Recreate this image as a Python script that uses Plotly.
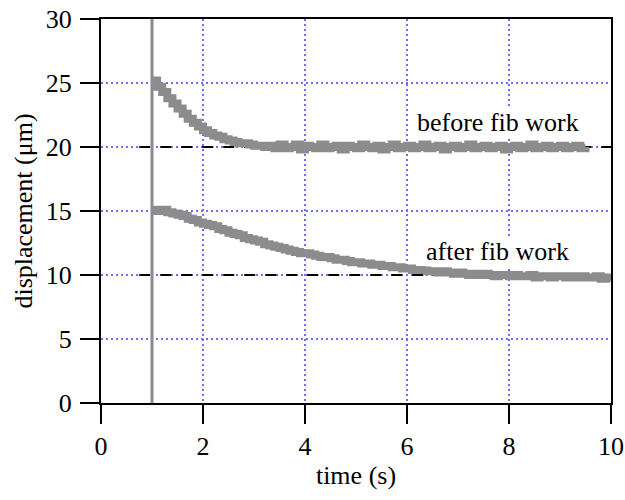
import plotly.graph_objects as go

# sample times (s), shared by both traces
time_s = [1.0, 1.1, 1.2, 1.3, 1.4, 1.5, 1.6, 1.7, 1.8, 1.9,
          2.0, 2.1, 2.2, 2.3, 2.4, 2.5, 2.6, 2.7, 2.8, 2.9,
          3.0, 3.1, 3.2, 3.3, 3.4, 3.5, 3.6, 3.7, 3.8, 3.9,
          4.0, 4.1, 4.2, 4.3, 4.4, 4.5, 4.6, 4.7, 4.8, 4.9,
          5.0, 5.1, 5.2, 5.3, 5.4, 5.5, 5.6, 5.7, 5.8, 5.9,
          6.0, 6.1, 6.2, 6.3, 6.4, 6.5, 6.6, 6.7, 6.8, 6.9,
          7.0, 7.1, 7.2, 7.3, 7.4, 7.5, 7.6, 7.7, 7.8, 7.9,
          8.0, 8.1, 8.2, 8.3, 8.4, 8.5, 8.6, 8.7, 8.8, 8.9,
          9.0, 9.1, 9.2, 9.3, 9.4, 9.5, 9.6, 9.7, 9.8, 9.9,
          10.0]

before_um = [25.2, 24.7, 24.3, 23.8, 23.4, 23.0, 22.6, 22.2, 21.9, 21.6,
             21.3, 21.1, 20.9, 20.8, 20.6, 20.5, 20.4, 20.3, 20.3, 20.2,
             20.1, 20.1, 20.0, 20.1, 19.9, 20.2, 19.9, 20.0, 20.2, 19.8,
             20.1, 20.0, 19.9, 20.2, 19.9, 20.0, 20.1, 19.8, 20.1, 20.0,
             19.9, 20.2, 20.0, 19.9, 20.1, 19.8, 20.0, 20.2, 19.9, 20.0,
             20.1, 19.9, 20.0, 20.2, 19.9, 20.0, 20.1, 19.8, 20.0, 20.1,
             19.9, 20.0, 20.2, 19.9, 20.0, 20.1, 19.9, 20.0, 20.1, 19.8,
             20.0, 20.1, 19.9, 20.0, 20.2, 19.9, 20.0, 20.1, 19.9, 20.0,
             20.1, 19.9, 20.0, 20.1, 19.9, 20.0]

after_um = [15.1, 15.0, 15.1, 14.9, 14.8, 14.7, 14.6, 14.4, 14.3, 14.1,
            14.0, 13.9, 13.8, 13.6, 13.5, 13.3, 13.2, 13.1, 12.9, 12.8,
            12.7, 12.6, 12.4, 12.3, 12.2, 12.1, 12.0, 11.9, 11.8, 11.7,
            11.7, 11.6, 11.5, 11.4, 11.4, 11.3, 11.2, 11.2, 11.1, 11.0,
            11.0, 10.9, 10.9, 10.8, 10.8, 10.7, 10.7, 10.6, 10.6, 10.5,
            10.5, 10.4, 10.4, 10.4, 10.3, 10.3, 10.2, 10.3, 10.2, 10.1,
            10.2, 10.1, 10.0, 10.1, 10.0, 10.1, 10.0, 9.9, 10.0, 10.0,
            9.9, 10.0, 9.9, 9.9, 10.0, 9.8, 9.9, 9.9, 9.8, 9.9,
            9.9, 9.8, 9.9, 9.8, 9.9, 9.8, 9.8, 9.9, 9.7, 9.8,
            9.8]

baseline_levels = [20, 10]
baseline_x = [0.75, 10]
step_time = 1.0
labels = ["before fib work", "after fib work"]
label_pos = [(7.78, 21.9), (7.78, 11.8)]

FONT = "Liberation Serif"
GRAY = "#8c8c8c"
FS = 26

fig = go.Figure()

for lvl in baseline_levels:
    fig.add_trace(go.Scatter(x=baseline_x, y=[lvl, lvl], mode="lines",
                             line=dict(color="black", width=2, dash="11px,10px"),
                             hoverinfo="skip"))

fig.add_trace(go.Scatter(x=[step_time, step_time], y=[0, 30], mode="lines",
                         line=dict(color=GRAY, width=3), hoverinfo="skip"))

fig.add_trace(go.Scatter(x=time_s[:len(before_um)], y=before_um, mode="lines",
                         line=dict(color=GRAY, width=8, shape="hv")))
fig.add_trace(go.Scatter(x=time_s[:len(after_um)], y=after_um, mode="lines",
                         line=dict(color=GRAY, width=8, shape="hv")))

for txt, (ax_, ay_) in zip(labels, label_pos):
    fig.add_annotation(x=ax_, y=ay_, text=txt, showarrow=False,
                       bgcolor="white", borderpad=0,
                       font=dict(size=FS, color="black", family=FONT))

axis_common = dict(showline=True, linecolor="black", linewidth=2, mirror=True,
                   ticks="outside", ticklen=19, tickwidth=2, tickcolor="black",
                   showgrid=True, gridcolor="#6f6fff", gridwidth=2, griddash="2px,3px",
                   zeroline=False, automargin=False,
                   tickfont=dict(size=FS, color="black", family=FONT))

fig.update_xaxes(range=[0, 10], dtick=2, ticklabelstandoff=0,
                 title=dict(text="time (s)", font=dict(size=FS, family=FONT, color="black"), standoff=6),
                 **axis_common)
fig.update_yaxes(range=[0, 30], dtick=5, ticklabelstandoff=3,
                 title=dict(text="displacement (μm)", font=dict(size=FS, family=FONT, color="black"), standoff=6),
                 **axis_common)

fig.update_layout(width=625, height=500, showlegend=False,
                  plot_bgcolor="white", paper_bgcolor="white",
                  margin=dict(l=101, r=14, t=19, b=97),
                  font=dict(family=FONT, color="black"))

# drop the default 8px body margin so the figure sits flush in the window
fig.write_html("out.html", config={"displayModeBar": False},
               post_script="document.body.style.margin='0';document.body.style.overflow='hidden';")
